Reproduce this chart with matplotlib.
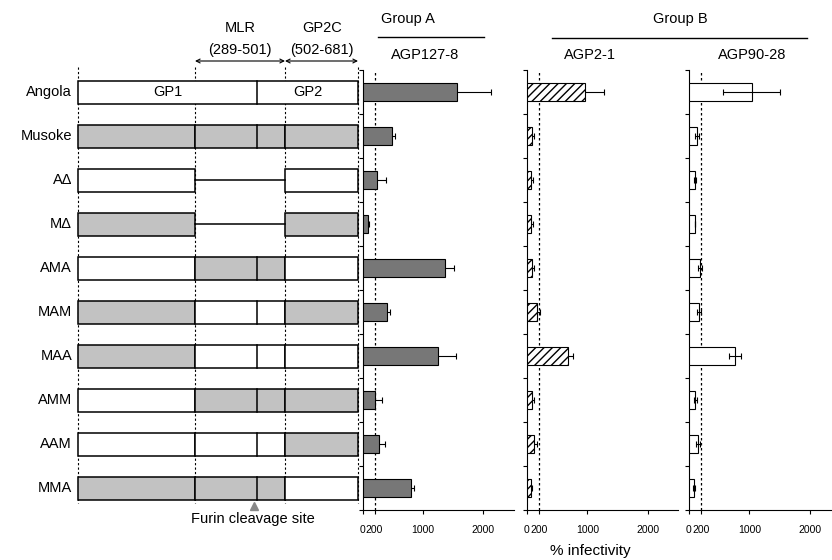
import matplotlib.pyplot as plt
from matplotlib.patches import Rectangle
import numpy as np

plt.rcParams['font.family'] = ['Liberation Sans', 'DejaVu Sans']

# constructs (row labels) and their GP1 / MLR / GP2C origin (A = Angola, M = Musoke, Δ = deleted)
constructs = ["Angola", "Musoke", "AΔ", "MΔ", "AMA", "MAM", "MAA", "AMM", "AAM", "MMA"]
composition = ["AAA", "MMM", "AΔA", "MΔM", "AMA", "MAM", "MAA", "AMM", "AAM", "MMA"]

# % infectivity
agp127_8 = [1570, 490, 240, 90, 1360, 400, 1250, 210, 270, 800]
agp127_8_err = [560, 50, 150, 20, 150, 60, 300, 120, 100, 60]
agp2_1 = [960, 85, 70, 70, 85, 170, 680, 90, 120, 60]
agp2_1_err = [310, 30, 25, 25, 25, 40, 75, 30, 40, 20]
agp90_28 = [1040, 130, 100, 100, 180, 170, 760, 100, 150, 85]
agp90_28_err = [470, 30, 15, 0, 30, 30, 100, 25, 30, 15]

xticks = [0, 200, 1000, 2000]
xticklabels = ["0", "200", "1000", "2000"]

W, H = 832, 560
fig = plt.figure(figsize=(W / 100, H / 100), dpi=100)

# overlay axes in pixel coordinates for the diagram and free text
ov = fig.add_axes([0, 0, 1, 1])
ov.set_xlim(0, W)
ov.set_ylim(H, 0)
ov.axis('off')

grey = '#c2c2c2'
dark = '#777777'
xb = [78, 195, 285, 358]
furin = 257
top, row_h = 70, 44
box_h = 23


def row_y(i):
    return top + row_h * (i + 0.5)


# dotted guide lines
for x in xb:
    ov.plot([x, x], [67, 503], color='k', lw=0.8, ls=(0, (2, 2)), zorder=1)

for i, (name, comp) in enumerate(zip(constructs, composition)):
    yc = row_y(i)
    y0 = yc - box_h / 2
    ov.text(72, yc, name, ha='right', va='center', fontsize=10.5)
    if i == 0:
        ov.add_patch(Rectangle((xb[0], y0), xb[3] - xb[0], box_h, fc='white',
                               ec='k', lw=1.1, zorder=2))
        ov.plot([furin, furin], [y0, y0 + box_h], color='k', lw=1.1, zorder=3)
        ov.text((xb[0] + furin) / 2, yc, "GP1", ha='center', va='center', fontsize=10.5, zorder=4)
        ov.text((furin + xb[3]) / 2, yc, "GP2", ha='center', va='center', fontsize=10.5, zorder=4)
        continue
    for j, c in enumerate(comp):
        if c == 'Δ':
            ov.plot([xb[j], xb[j + 1]], [yc, yc], color='k', lw=1.1, zorder=3)
            continue
        fc = grey if c == 'M' else 'white'
        ov.add_patch(Rectangle((xb[j], y0), xb[j + 1] - xb[j], box_h, fc=fc,
                               ec='k', lw=1.1, zorder=2))
    if comp[1] != 'Δ':
        ov.plot([furin, furin], [y0, y0 + box_h], color='k', lw=1.1, zorder=3)

# region headers
ov.text(240, 28, "MLR", ha='center', va='center', fontsize=10.5)
ov.text(240, 50, "(289-501)", ha='center', va='center', fontsize=10.5)
ov.text(322, 28, "GP2C", ha='center', va='center', fontsize=10.5)
ov.text(322, 50, "(502-681)", ha='center', va='center', fontsize=10.5)
for a, b in [(xb[1], xb[2]), (xb[2], xb[3])]:
    ov.annotate("", xy=(a, 61), xytext=(b, 61),
                arrowprops=dict(arrowstyle='<->', lw=0.8, color='k',
                                shrinkA=0, shrinkB=0, mutation_scale=7))

ov.plot([254], [506], marker='^', color='#888888', ms=6)
ov.text(253, 519, "Furin cleavage site", ha='center', va='center', fontsize=10.5)

# group headers
ov.text(408, 19, "Group A", ha='center', va='center', fontsize=10.5)
ov.plot([378, 484], [37, 37], color='k', lw=1)
ov.text(680, 19, "Group B", ha='center', va='center', fontsize=10.5)
ov.plot([552, 807], [38, 38], color='k', lw=1)
ov.text(590, 551, "% infectivity", ha='center', va='center', fontsize=11)

# bar panels
panels = [
    ("AGP127-8", 362.5, agp127_8, agp127_8_err, dict(color=dark, edgecolor='k'), 1),
    ("AGP2-1", 527, agp2_1, agp2_1_err, dict(color='white', edgecolor='k', hatch='////'), 1),
    ("AGP90-28", 689, agp90_28, agp90_28_err, dict(color='white', edgecolor='k'), 4),
]
ypos = np.arange(len(constructs))
ax_w = 151
for title, left, vals, errs, style, ezorder in panels:
    ax = fig.add_axes([left / W, 1 - 510 / H, ax_w / W, 440 / H])
    ax.barh(ypos, vals, height=0.42, linewidth=0.8, zorder=3, **style)
    ax.errorbar(vals, ypos, xerr=errs, fmt='none', ecolor='k', elinewidth=0.8,
                capsize=2, capthick=0.8, zorder=ezorder)
    ax.axvline(200, color='k', lw=0.9, ls=(0, (2, 2)), zorder=2)
    ax.set_xlim(0, 2500)
    ax.set_ylim(len(constructs) - 0.5, -0.5)
    ax.set_xticks(xticks)
    ax.set_xticklabels(xticklabels, fontsize=7.5)
    ax.set_yticks(np.arange(len(constructs) + 1) - 0.5)
    ax.set_yticklabels([])
    ax.tick_params(axis='both', length=3, width=0.8)
    ax.tick_params(axis='x', pad=8)
    for s in ['top', 'right']:
        ax.spines[s].set_visible(False)
    for s in ['left', 'bottom']:
        ax.spines[s].set_linewidth(0.8)
    ax.patch.set_alpha(0)
    ov.text(left + 63, 55, title, ha='center', va='center', fontsize=10.5)

fig.savefig("out.png", dpi=100)
